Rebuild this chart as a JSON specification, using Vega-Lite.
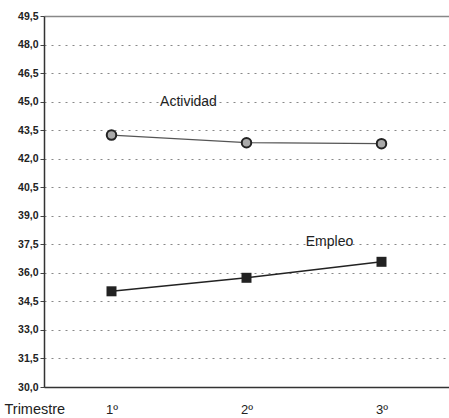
{
  "$schema": "https://vega.github.io/schema/vega-lite/v6.json",
  "width": 405,
  "height": 371,
  "autosize": "none",
  "padding": {"left": 44, "top": 16, "right": 0, "bottom": 31},
  "background": "white",
  "config": {
    "view": {"stroke": null},
    "font": "Liberation Sans"
  },
  "datasets": {
    "series": [
      {"serie": "Actividad", "trimestre": "1º", "valor": 43.24},
      {"serie": "Actividad", "trimestre": "2º", "valor": 42.84},
      {"serie": "Actividad", "trimestre": "3º", "valor": 42.79},
      {"serie": "Empleo", "trimestre": "1º", "valor": 35.03},
      {"serie": "Empleo", "trimestre": "2º", "valor": 35.74},
      {"serie": "Empleo", "trimestre": "3º", "valor": 36.58}
    ]
  },
  "layer": [
    {
      "data": {"name": "series"},
      "transform": [{"filter": "datum.serie == 'Actividad'"}],
      "mark": {"type": "line", "color": "#555", "strokeWidth": 1.2},
      "encoding": {
        "x": {
          "field": "trimestre", "type": "ordinal",
          "scale": {"type": "point", "padding": 0.5},
          "axis": {
            "title": "Trimestre", "titleFont": "Liberation Sans", "titleFontSize": 14.5, "titleFontWeight": "normal",
            "titleColor": "#222", "titleAnchor": "start", "titleAlign": "left", "titleBaseline": "alphabetic",
            "titleX": -40, "titleY": 26,
            "labelAngle": 0, "labelFontSize": 13, "labelColor": "#222", "labelPadding": 16,
            "ticks": false, "domainColor": "#333", "domainWidth": 1.5, "grid": false
          }
        },
        "y": {
          "field": "valor", "type": "quantitative",
          "scale": {"domain": [30, 49.5], "nice": false, "zero": false},
          "axis": {
            "title": null, "values": [30, 31.5, 33, 34.5, 36, 37.5, 39, 40.5, 42, 43.5, 45, 46.5, 48, 49.5],
            "tickCount": 20,
            "labelOverlap": false, "labelFlush": false,
            "labelExpr": "replace(format(datum.value, '.1f'), '.', ',')",
            "labelFontSize": 10.5, "labelColor": "#222", "labelFontWeight": "bold",
            "tickSize": 4, "tickColor": "#444", "labelPadding": 2,
            "domainColor": "#333", "domainWidth": 1.5,
            "grid": true, "gridColor": "#888",
            "gridDash": {"condition": {"test": "datum.value == 49.5", "value": []}, "value": [2, 5]},
            "gridWidth": {"condition": {"test": "datum.value == 49.5", "value": 1.5}, "value": 1}
          }
        }
      }
    },
    {
      "data": {"name": "series"},
      "transform": [{"filter": "datum.serie == 'Empleo'"}],
      "mark": {"type": "line", "color": "#222", "strokeWidth": 1.6},
      "encoding": {
        "x": {"field": "trimestre", "type": "ordinal"},
        "y": {"field": "valor", "type": "quantitative"}
      }
    },
    {
      "data": {"name": "series"},
      "transform": [{"filter": "datum.serie == 'Actividad'"}],
      "mark": {"type": "point", "shape": "circle", "filled": false, "fill": "#aaa", "fillOpacity": 1, "stroke": "#222", "strokeWidth": 2, "size": 90, "opacity": 1},
      "encoding": {
        "x": {"field": "trimestre", "type": "ordinal"},
        "y": {"field": "valor", "type": "quantitative"}
      }
    },
    {
      "data": {"name": "series"},
      "transform": [{"filter": "datum.serie == 'Empleo'"}],
      "mark": {"type": "square", "color": "#222", "size": 100, "opacity": 1},
      "encoding": {
        "x": {"field": "trimestre", "type": "ordinal"},
        "y": {"field": "valor", "type": "quantitative"}
      }
    },
    {
      "data": {"values": [{"label": "Actividad", "trimestre": "1º", "valor": 44.97}]},
      "mark": {"type": "text", "fontSize": 14, "color": "#222", "dx": 77, "align": "center", "baseline": "middle"},
      "encoding": {
        "x": {"field": "trimestre", "type": "ordinal"},
        "y": {"field": "valor", "type": "quantitative"},
        "text": {"field": "label"}
      }
    },
    {
      "data": {"values": [{"label": "Empleo", "trimestre": "2º", "valor": 37.63}]},
      "mark": {"type": "text", "fontSize": 14, "color": "#222", "dx": 83, "align": "center", "baseline": "middle"},
      "encoding": {
        "x": {"field": "trimestre", "type": "ordinal"},
        "y": {"field": "valor", "type": "quantitative"},
        "text": {"field": "label"}
      }
    }
  ]
}
